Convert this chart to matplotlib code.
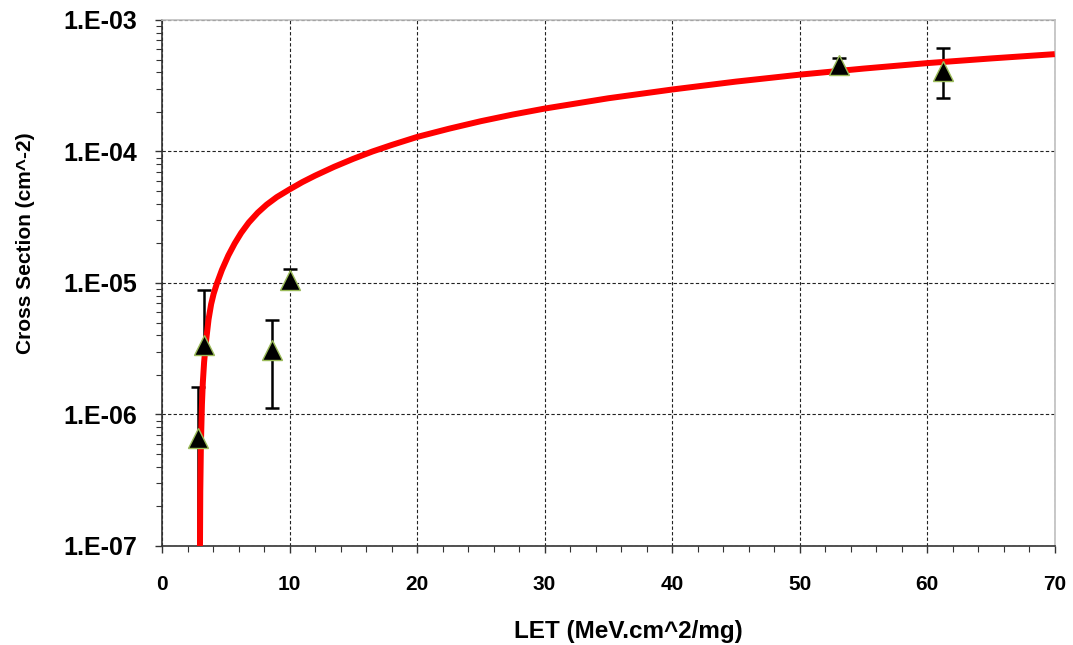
import numpy as np
import matplotlib
matplotlib.use("Agg")
import matplotlib.pyplot as plt
from matplotlib import font_manager
from matplotlib.ticker import LogLocator, FixedLocator, NullFormatter

let_pts = [2.82, 3.29, 8.61, 10.02, 53.1, 61.2]
sigma = [6.67e-7, 3.4e-6, 3.11e-6, 1.06e-5, 4.54e-4, 4.12e-4]
sigma_hi = [1.63e-6, 8.8e-6, 5.26e-6, 1.28e-5, 5.13e-4, 6.1e-4]
sigma_lo = [1e-8, 3.4e-6, 1.13e-6, 1.06e-5, 4.54e-4, 2.55e-4]

# fitted curve, points
fit_let = [2.96, 3.0, 3.05, 3.13, 3.2, 3.3, 3.45, 3.65, 3.85, 4.05, 4.3, 4.7, 5.2, 5.7,
           6.2, 6.8, 7.5, 8.2, 9.0, 10, 11, 12, 13.5, 15, 16.5, 18, 20, 22.5, 25, 27.5,
           30, 35, 40, 45, 50, 55, 60, 65, 70]
fit_sigma = [5e-8, 2.6e-7, 6e-7, 1.2e-6, 1.75e-6, 2.5e-6, 3.6e-6, 5.3e-6, 6.9e-6, 8.3e-6,
             9.9e-6, 1.26e-5, 1.62e-5, 2.0e-5, 2.4e-5, 2.88e-5, 3.42e-5, 3.94e-5, 4.5e-5,
             5.15e-5, 5.85e-5, 6.55e-5, 7.65e-5, 8.8e-5, 1.0e-4, 1.12e-4, 1.29e-4, 1.49e-4,
             1.7e-4, 1.91e-4, 2.12e-4, 2.54e-4, 2.96e-4, 3.4e-4, 3.84e-4, 4.27e-4, 4.7e-4,
             5.1e-4, 5.5e-4]

y_ticks = [1e-7, 1e-6, 1e-5, 1e-4, 1e-3]
y_labels = ["1.E-07", "1.E-06", "1.E-05", "1.E-04", "1.E-03"]

plt.rcParams['font.family'] = ['Liberation Sans', 'DejaVu Sans']

# narrow font for the x axis if there is one
names = {f.name for f in font_manager.fontManager.ttflist}
if 'Liberation Sans Narrow' in names:
    xfont, xtick_size, xlab_size = 'Liberation Sans Narrow', 18, 21
else:
    xfont, xtick_size, xlab_size = 'Liberation Sans', 15, 17.5

fig = plt.figure(figsize=(10.73, 6.45), dpi=100)
ax = fig.add_axes([0.151, 0.1535, 0.832, 0.8155])

# error bars: line from low to high, caps only where the end is shown
ax.vlines(let_pts, sigma_lo, sigma_hi, color='black', lw=1.8, zorder=2)
ax.plot(let_pts, sigma_hi, linestyle='none', marker='_', markersize=10,
        markeredgewidth=1.8, color='black', zorder=2)
lo_x = [l for l, lo, s in zip(let_pts, sigma_lo, sigma) if lo < s]
lo_y = [lo for lo, s in zip(sigma_lo, sigma) if lo < s]
ax.plot(lo_x, lo_y, linestyle='none', marker='_', markersize=10,
        markeredgewidth=1.8, color='black', zorder=2)

ax.plot(fit_let, fit_sigma, color='#ff0000', lw=4.3, zorder=3, solid_capstyle='butt')
ax.plot(let_pts, sigma, linestyle='none', marker='^', markersize=14.5,
        markerfacecolor='black', markeredgecolor='#9bbb59', markeredgewidth=1.0, zorder=4)

ax.set_yscale('log')
ax.set_xlim(0, 70)
ax.set_ylim(1e-7, 1e-3)

ax.set_xticks(range(0, 71, 10))
ax.xaxis.set_minor_locator(FixedLocator(np.arange(0, 71, 2)))
ax.set_yticks(y_ticks)
ax.set_yticklabels(y_labels)
ax.yaxis.set_minor_locator(LogLocator(base=10, subs=np.arange(2, 10), numticks=20))
ax.yaxis.set_minor_formatter(NullFormatter())

ax.grid(True, which='major', color='#222222', linestyle=(0, (3, 2)), linewidth=0.8)
ax.set_axisbelow(True)

ax.tick_params(which='major', direction='out', length=5, width=1.0, color='#333333')
ax.tick_params(which='minor', direction='out', length=4, width=0.8, color='#333333')
ax.tick_params(axis='y', pad=13)
ax.tick_params(axis='x', pad=16)
for lbl in ax.get_yticklabels():
    lbl.set_fontsize(18)
    lbl.set_fontweight('bold')
for lbl in ax.get_xticklabels():
    lbl.set_fontsize(xtick_size)
    lbl.set_fontweight('bold')
    lbl.set_family([xfont, 'DejaVu Sans'])

for side in ['left', 'bottom']:
    ax.spines[side].set_color('#333333')
    ax.spines[side].set_linewidth(1.2)
for side in ['top', 'right']:
    ax.spines[side].set_color('#bfbfbf')
    ax.spines[side].set_linewidth(1.2)

ax.set_ylabel('Cross Section (cm^-2)', fontsize=15, fontweight='bold', va='center')
ax.yaxis.set_label_coords(-0.153, 0.576)
ax.set_xlabel('LET (MeV.cm^2/mg)', fontsize=xlab_size, fontweight='bold', va='center',
              family=[xfont, 'DejaVu Sans'])
ax.xaxis.set_label_coords(0.522, -0.163)

fig.savefig('out.png', dpi=100)
